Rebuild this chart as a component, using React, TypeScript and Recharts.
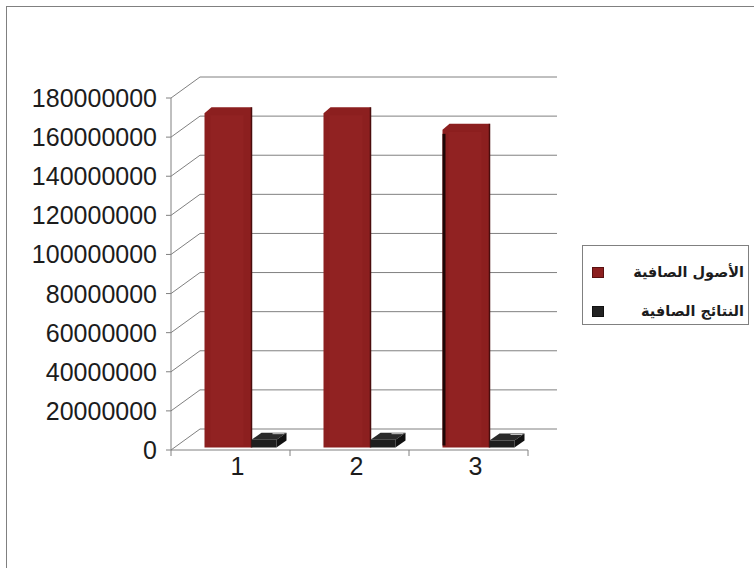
import React from "react";
import { BarChart, Bar, XAxis, YAxis, CartesianGrid, Legend } from "recharts";

const categories = ["1", "2", "3"];
const netAssets = [174000000, 174000000, 165500000];
const netResults = [4000000, 4000000, 3600000];
const yTicks = [0, 20000000, 40000000, 60000000, 80000000, 100000000, 120000000, 140000000, 160000000, 180000000];
const seriesNames = ["الأصول الصافية", "النتائج الصافية"];
const seriesColors = ["#8c1f1f", "#222222"];

const data = categories.map((name, i) => ({ name, assets: netAssets[i], results: netResults[i] }));

const W = 754;
const H = 568;
const MARGIN = { top: 98, right: 226, bottom: 88, left: 0 };
const Y_AXIS_W = 171;
const X_AXIS_H = 30;
const PLOT_W = W - Y_AXIS_W - MARGIN.right;
const BAND = PLOT_W / categories.length;

// depth of the 3d box (back wall offset) and where the bars sit in it
const DX = 29;
const DY = -21;
const BAR_DX = 9.5;
const BAR_DY = -2.5;

const GRID = "#808080";
const FONT = '"Liberation Sans", Arial, sans-serif';

// back wall gridline + the slanted line on the side wall
const backWallLine = (props: any) => {
  const { x1, y1, x2, y2, index } = props;
  return (
    <g key={`bw-${index}-${y1}`}>
      <line x1={x1} y1={y1} x2={x1 + DX} y2={y1 + DY} stroke={GRID} strokeWidth={1} />
      <line x1={x1 + DX} y1={y1 + DY} x2={x2 + DX} y2={y2 + DY} stroke={GRID} strokeWidth={1} />
    </g>
  );
};

const ValueTick = ({ x, y, payload }: any) => (
  <text x={x} y={y} dy="0.36em" textAnchor="end" fontSize={25} fontFamily={FONT} fill="#1c1c1c">
    {payload.value}
  </text>
);

const CategoryTick = ({ x, y, payload, index }: any) => {
  const left = x - BAND / 2;
  const right = x + BAND / 2;
  return (
    <g>
      <line x1={left} y1={y - 6} x2={left} y2={y} stroke={GRID} />
      {index === categories.length - 1 && <line x1={right} y1={y - 6} x2={right} y2={y} stroke={GRID} />}
      <text x={x + 7} y={y + 19} textAnchor="middle" fontSize={25} fontFamily={FONT} fill="#1c1c1c">
        {payload.value}
      </text>
    </g>
  );
};

const RedBar = (props: any) => {
  const { x, y, width, height, index } = props;
  const X = x + BAR_DX;
  const Y = y + BAR_DY;
  const pts = [
    [X, Y + 6],
    [X + 7, Y],
    [X + width, Y],
    [X + width, Y + height],
    [X, Y + height],
  ]
    .map((p) => p.join(","))
    .join(" ");
  return (
    <g>
      <polygon points={pts} fill={seriesColors[0]} />
      <rect x={X + 6} y={Y + 8} width={width - 14} height={height - 10} fill="#962626" opacity={0.5} />
      <line x1={X + width} y1={Y} x2={X + width} y2={Y + height} stroke="#4a0d0d" strokeWidth={1.5} />
      {index === 2 && <rect x={X} y={Y + 10} width={3} height={height - 12} fill="#1e0606" />}
    </g>
  );
};

const DarkBar = (props: any) => {
  const { x, y, width, height } = props;
  const X = x + BAR_DX;
  const Y = y + BAR_DY;
  const d = 10;
  const e = 7;
  const poly = (arr: number[][]) => arr.map((p) => p.join(",")).join(" ");
  return (
    <g>
      <rect x={X} y={Y} width={width} height={height} fill="#1e1e1e" />
      <polygon points={poly([[X, Y], [X + d, Y - e], [X + width + d, Y - e], [X + width, Y]])} fill="#2a2a2a" />
      <line x1={X + width - 4} y1={Y - e + 1} x2={X + width + d - 2} y2={Y - e + 1} stroke="#ccc" strokeWidth={1} />
      <polygon
        points={poly([[X + width, Y], [X + width + d, Y - e], [X + width + d, Y + height - e], [X + width, Y + height]])}
        fill="#111"
      />
    </g>
  );
};

const LegendBox = () => (
  <div
    style={{
      position: "relative",
      width: 165,
      height: 78,
      border: `1px solid ${GRID}`,
      background: "#fff",
      fontFamily: '"DejaVu Sans", sans-serif',
      fontWeight: "bold",
      fontSize: 14.5,
      color: "#1c1c1c",
    }}
  >
    {seriesNames.map((name, i) => (
      <div
        key={name}
        style={{
          position: "absolute",
          left: 9,
          right: 4,
          top: i === 0 ? 17 : 56,
          height: 18,
          display: "flex",
          alignItems: "center",
          justifyContent: "space-between",
        }}
      >
        <span
          style={{
            width: 10,
            height: 9,
            background: seriesColors[i],
            border: `1px solid ${i === 0 ? "#5a1010" : "#111"}`,
            display: "inline-block",
          }}
        />
        <span dir="rtl">{name}</span>
      </div>
    ))}
  </div>
);

export default function App() {
  return (
    <div style={{ position: "absolute", left: 0, top: 0, width: W, height: H, overflow: "hidden", background: "#fff" }}>
      <div
        style={{
          position: "absolute",
          left: 6,
          top: 6,
          width: 900,
          height: 900,
          border: `1px solid ${GRID}`,
          boxSizing: "border-box",
        }}
      />
      <div style={{ position: "absolute", left: 0, top: 0 }}>
        <BarChart width={W} height={H} data={data} margin={MARGIN} barGap={0}>
          <CartesianGrid vertical={false} horizontal={backWallLine} />
          <XAxis
            dataKey="name"
            height={X_AXIS_H}
            axisLine={{ stroke: GRID }}
            tickLine={false}
            tickSize={6}
            tickMargin={0}
            tick={<CategoryTick />}
            interval={0}
          />
          <YAxis
            width={Y_AXIS_W}
            domain={[0, 180000000]}
            ticks={yTicks}
            interval={0}
            axisLine={{ stroke: GRID }}
            tickLine={{ stroke: GRID }}
            tickSize={5}
            tickMargin={9}
            tick={<ValueTick />}
          />
          <Legend
            content={<LegendBox />}
            layout="horizontal"
            align="center"
            verticalAlign="middle"
            wrapperStyle={{ left: 582, top: 245, width: 167, height: 80 }}
          />
          <Bar dataKey="assets" name={seriesNames[0]} barSize={47} shape={RedBar} isAnimationActive={false} />
          <Bar dataKey="results" name={seriesNames[1]} barSize={25} shape={DarkBar} isAnimationActive={false} />
        </BarChart>
      </div>
    </div>
  );
}
